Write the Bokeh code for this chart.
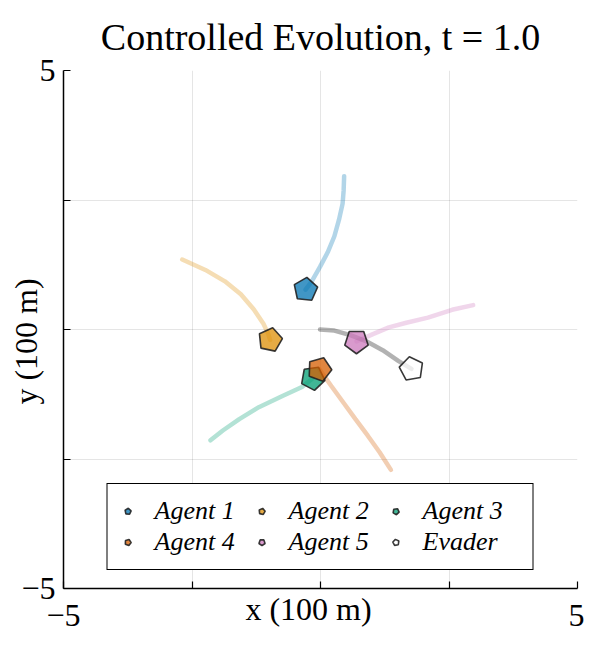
from bokeh.plotting import figure
from bokeh.models import FixedTicker, Legend, LegendItem, ColumnDataSource
from bokeh.embed import file_html
from bokeh.resources import INLINE

# axis extent (units of 100 m)
x_lim = (-5, 5)
y_lim = (-5, 5)
tick_vals = [-5, -2.5, 0, 2.5, 5]
tick_labels = {-5: "\u22125", -2.5: "", 0: "", 2.5: "", 5: "5"}

# trajectories (units of 100 m)
agent1_x = [0.46, 0.45, 0.43, 0.36, 0.27, 0.14, -0.01, -0.17, -0.29]
agent1_y = [2.96, 2.68, 2.43, 2.12, 1.80, 1.49, 1.21, 0.93, 0.77]
agent2_x = [-2.69, -2.24, -1.86, -1.55, -1.30, -1.11, -1.02, -0.98]
agent2_y = [1.35, 1.15, 0.93, 0.68, 0.39, 0.11, -0.08, -0.20]
agent3_x = [-2.14, -1.90, -1.58, -1.20, -0.73, -0.36, -0.15]
agent3_y = [-2.14, -1.95, -1.73, -1.50, -1.28, -1.11, -0.94]
agent4_x = [1.37, 1.15, 0.92, 0.68, 0.43, 0.21, -0.02]
agent4_y = [-2.71, -2.37, -2.05, -1.73, -1.39, -1.09, -0.77]
agent5_x = [2.97, 2.56, 2.09, 1.67, 1.33, 1.02, 0.70]
agent5_y = [0.47, 0.38, 0.23, 0.13, 0.04, -0.09, -0.23]
evader_x = [-0.01, 0.27, 0.58, 0.90, 1.21, 1.52, 1.77]
evader_y = [0.00, -0.02, -0.11, -0.23, -0.40, -0.61, -0.76]
# marker heading (deg) at t = 1.0
headings = [84, 78, 62, 70, 54, 100]

names = ["Agent 1", "Agent 2", "Agent 3", "Agent 4", "Agent 5", "Evader"]
xs = [agent1_x, agent2_x, agent3_x, agent4_x, agent5_x, evader_x]
ys = [agent1_y, agent2_y, agent3_y, agent4_y, agent5_y, evader_y]
trail_colors = ["#0173b2", "#de8f05", "#029e73", "#d55e00", "#cc78bc", "#000000"]
fill_colors = ["#0173b2", "#de8f05", "#029e73", "#d55e00", "#cc78bc", "#ffffff"]

title_text = "Controlled Evolution, t = 1.0"
x_label = "x    (100 m)"
y_label = "y    (100 m)"

FONT = "Liberation Serif"

p = figure(width=584, height=638, x_range=x_lim, y_range=y_lim,
           output_backend="svg", toolbar_location=None,
           min_border_left=63, min_border_right=7, min_border_top=10, min_border_bottom=50)
p.outline_line_color = None
p.background_fill_color = "white"

p.title.text = title_text
p.title.text_font = FONT
p.title.text_font_size = "38px"
p.title.text_font_style = "normal"
p.title.align = "center"
p.title.text_color = "black"
p.title.standoff = 26

for ax in (p.xaxis[0], p.yaxis[0]):
    ax.ticker = FixedTicker(ticks=tick_vals)
    ax.major_label_overrides = tick_labels
    ax.minor_tick_line_color = None
    ax.major_tick_in = 7
    ax.major_tick_out = 0
    ax.axis_line_width = 1.5
    ax.major_tick_line_width = 1.2
    ax.axis_line_color = "black"
    ax.major_tick_line_color = "black"
    ax.major_label_text_font = FONT
    ax.major_label_text_font_size = "32px"
    ax.major_label_text_color = "black"
    ax.axis_label_text_font = FONT
    ax.axis_label_text_font_size = "32px"
    ax.axis_label_text_font_style = "normal"
    ax.axis_label_text_color = "black"

p.xaxis.axis_label = x_label
p.yaxis.axis_label = y_label
p.xaxis.major_label_standoff = 16
p.yaxis.major_label_standoff = 8
p.xaxis.axis_label_standoff = -38
p.yaxis.axis_label_standoff = -26

p.xgrid.grid_line_color = "black"
p.xgrid.grid_line_alpha = 0.1
p.ygrid.grid_line_color = "black"
p.ygrid.grid_line_alpha = 0.1

renderers = {}
for name, x, y, tc in zip(names, xs, ys, trail_colors):
    p.line(x, y, line_color=tc, line_alpha=0.3, line_width=4.5, line_cap="round")
for name, x, y, fc, h in zip(names, xs, ys, fill_colors, headings):
    src = ColumnDataSource(dict(x=[x[-1]], y=[y[-1]], a=[h - 90]))
    r = p.ngon(x="x", y="y", radius=0.24, n=5, angle="a", angle_units="deg", source=src,
               fill_color=fc, fill_alpha=0.75, line_color="#222222", line_width=1.6, line_alpha=0.9)
    renderers[name] = r

# legend fills column by column: order so rows read Agent 1, 2, 3 / Agent 4, 5, Evader
legend_order = ["Agent 1", "Agent 4", "Agent 2", "Agent 5", "Agent 3", "Evader"]
items = [LegendItem(label=n, renderers=[renderers[n]]) for n in legend_order]

legend = Legend(items=items, ncols=3, location="bottom_center")
legend.label_text_font = FONT
legend.label_text_font_style = "italic"
legend.label_text_font_size = "26px"
legend.label_text_color = "black"
legend.border_line_color = "black"
legend.border_line_width = 1.2
legend.border_line_alpha = 1.0
legend.margin = 18
legend.padding = 12
legend.spacing = 1
legend.glyph_width = 16
legend.glyph_height = 16
legend.label_standoff = 19
legend.label_height = 26
legend.label_width = 98
legend.background_fill_alpha = 1.0
p.add_layout(legend)

open("out.html", "w").write(file_html(p, INLINE))
